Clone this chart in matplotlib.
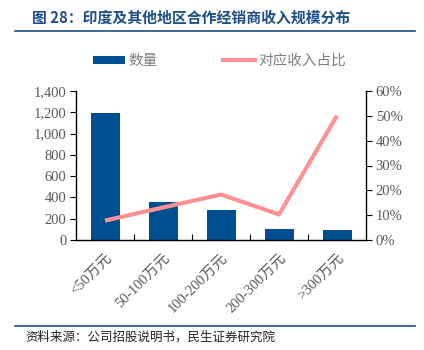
import matplotlib
matplotlib.use("Agg")
import matplotlib.pyplot as plt
from matplotlib.lines import Line2D
from matplotlib.patches import Patch
import numpy as np

categories = ["<50万元", "50-100万元", "100-200万元", "200-300万元", ">300万元"]
counts = [1195, 353, 283, 101, 94]
share = [7.8, 13.1, 18.3, 10.3, 50.1]

left_ticks = [0, 200, 400, 600, 800, 1000, 1200, 1400]
right_ticks = [0, 10, 20, 30, 40, 50, 60]

CJK = ["Noto Sans CJK SC", "DejaVu Sans"]
SERIF = ["Liberation Serif", "Noto Sans CJK SC"]
grey = "#595959"
bar_color = "#004e92"
line_color = "#ff9194"
title_color = "#1d4f86"

fig = plt.figure(figsize=(4.24, 3.5), dpi=100)
W, H = 424, 350

ax = fig.add_axes([76 / W, 1 - 240 / H, (366 - 76) / W, (240 - 91) / H])
x = np.arange(len(categories))
ax.bar(x, counts, width=0.5, color=bar_color, zorder=2)
ax.set_xlim(-0.5, len(categories) - 0.5)
ax.set_ylim(0, 1400)
ax.set_yticks(left_ticks)
ax.set_yticklabels([f"{v:,}" for v in left_ticks], family=SERIF, fontsize=10.5, color=grey)
ax.set_xticks(np.arange(0.5, len(categories) - 0.5), minor=False)
ax.set_xticklabels([])
ax.set_xticks(x, minor=True)
ax.set_xticklabels(categories, minor=True, rotation=45, ha="right", rotation_mode="anchor",
                   family=SERIF, fontsize=10.5, color=grey)
ax.tick_params(axis="x", which="major", direction="in", length=4, width=0.8, color="black")
ax.tick_params(axis="x", which="minor", length=0, pad=8)
ax.tick_params(axis="y", direction="out", length=4, width=0.8, color="black", pad=3)
for s in ["top", "right"]:
    ax.spines[s].set_visible(False)
ax.spines["left"].set_linewidth(1.0)
ax.spines["bottom"].set_linewidth(1.0)

ax2 = ax.twinx()
ax2.plot(x, share, color=line_color, linewidth=3, solid_capstyle="butt", zorder=3)
ax2.set_ylim(0, 60)
ax2.set_yticks(right_ticks)
ax2.set_yticklabels([f"{v}%" for v in right_ticks], family=SERIF, fontsize=10.5, color=grey)
ax2.tick_params(axis="y", direction="out", length=4, width=0.8, color="black", pad=3)
for s in ["top", "left", "bottom"]:
    ax2.spines[s].set_visible(False)
ax2.spines["right"].set_linewidth(1.0)

# Title
fig.text(32 / W, 1 - 18 / H, "图 28：印度及其他地区合作经销商收入规模分布", family=CJK,
         fontsize=10.7, fontweight="bold", color=title_color, va="center", ha="left")
fig.add_artist(Line2D([15 / W, 415 / W], [1 - 31 / H, 1 - 31 / H], color=title_color, linewidth=1.2))

# Legend
handles = [Patch(facecolor=bar_color, edgecolor="none"),
           Line2D([0], [0], color=line_color, linewidth=3)]
leg = fig.legend(handles, ["数量", "对应收入占比"], loc="center left", bbox_to_anchor=(86 / W, 1 - 61 / H),
                 ncol=2, frameon=False, prop={"family": CJK, "size": 10.5},
                 handlelength=2.15, handleheight=0.45, columnspacing=4.5, handletextpad=0.25,
                 borderaxespad=0, borderpad=0.5)
for t in leg.get_texts():
    t.set_color("#7f7f7f")

# Footer
fig.add_artist(Line2D([15 / W, 415 / W], [1 - 326 / H, 1 - 326 / H], color=title_color, linewidth=1.2))
fig.text(25 / W, 1 - 337 / H, "资料来源：公司招股说明书，民生证券研究院", family=CJK,
         fontsize=9, color="#222222", va="center", ha="left")

fig.savefig("out.png", dpi=100)
